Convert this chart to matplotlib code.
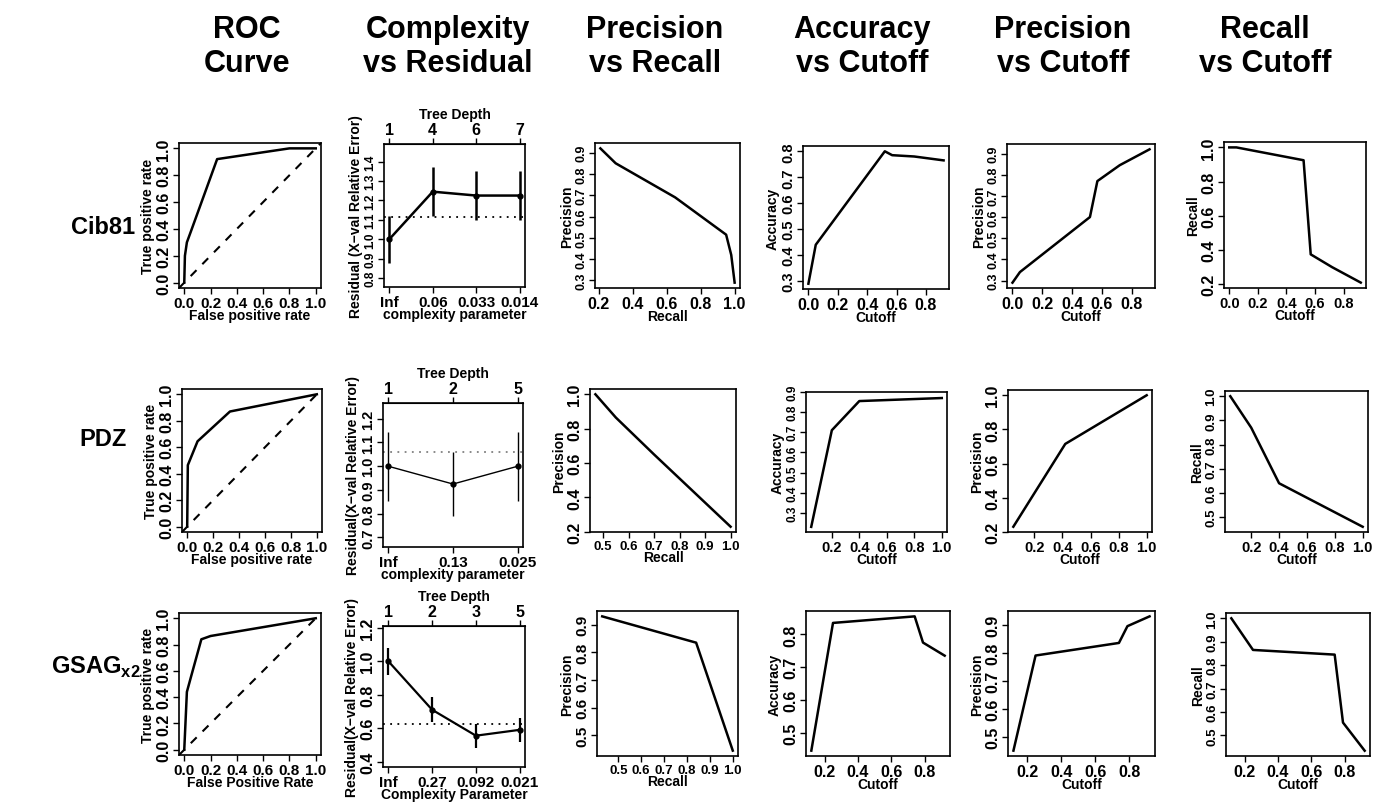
import matplotlib
matplotlib.use("Agg")
import matplotlib.pyplot as plt
import numpy as np
from matplotlib.ticker import FormatStrFormatter

plt.rcParams['font.family'] = ['Liberation Sans', 'DejaVu Sans']
plt.rcParams['font.weight'] = 'bold'
plt.rcParams['mathtext.fontset'] = 'custom'
plt.rcParams['mathtext.bf'] = 'Liberation Sans:bold'
plt.rcParams['mathtext.rm'] = 'Liberation Sans:bold'

W, H = 1375, 803

col_titles = ['ROC\nCurve', 'Complexity\nvs Residual', 'Precision\nvs Recall',
              'Accuracy\nvs Cutoff', 'Precision\nvs Cutoff', 'Recall\nvs Cutoff']
row_titles = ['Cib81', 'PDZ', r'GSAG$_{\mathbf{x2}}$']

# ---- Cib81 ----
cib_roc_fpr = [0.0, 0.005, 0.02, 0.05, 0.25, 0.8, 1.0]
cib_roc_tpr = [0.0, 0.2, 0.3, 0.38, 0.92, 1.0, 1.0]
cib_cp = ['Inf', '0.06', '0.033', '0.014']
cib_depth = ['1', '4', '6', '7']
cib_err = [1.0, 1.245, 1.225, 1.225]
cib_err_lo = [0.88, 1.12, 1.10, 1.10]
cib_err_hi = [1.12, 1.37, 1.35, 1.35]
cib_err_line = 1.115
cib_recall = [0.21, 0.30, 0.65, 0.95, 0.98, 1.0]
cib_precision = [0.92, 0.85, 0.69, 0.515, 0.42, 0.29]
cib_cutoff = [0.0, 0.05, 0.52, 0.57, 0.72, 0.92]
cib_acc = [0.29, 0.44, 0.80, 0.785, 0.78, 0.765]
cib_prec_cut = [0.29, 0.34, 0.60, 0.77, 0.845, 0.92]
cib_rec_cut = [1.0, 1.0, 0.925, 0.375, 0.30, 0.21]

# ---- PDZ ----
pdz_roc_fpr = [0.0, 0.005, 0.08, 0.33, 1.0]
pdz_roc_tpr = [0.0, 0.465, 0.645, 0.87, 1.0]
pdz_cp = ['Inf', '0.13', '0.025']
pdz_depth = ['1', '2', '5']
pdz_err = [1.0, 0.925, 1.0]
pdz_err_lo = [0.855, 0.79, 0.855]
pdz_err_hi = [1.145, 1.06, 1.145]
pdz_err_line = 1.06
pdz_recall = [0.47, 0.55, 0.70, 1.0]
pdz_precision = [1.0, 0.865, 0.65, 0.23]
pdz_cutoff = [0.05, 0.20, 0.40, 1.0]
pdz_acc = [0.23, 0.71, 0.855, 0.87]
pdz_prec_cutoff = [0.05, 0.42, 1.0]
pdz_prec_cut = [0.23, 0.715, 1.0]
pdz_rec_cut = [1.0, 0.87, 0.64, 0.46]

# ---- GSAG x2 ----
gsag_roc_fpr = [0.0, 0.02, 0.05, 0.13, 0.20, 1.0]
gsag_roc_tpr = [0.0, 0.44, 0.55, 0.84, 0.865, 1.0]
gsag_cp = ['Inf', '0.27', '0.092', '0.021']
gsag_depth = ['1', '2', '3', '5']
gsag_err = [1.0, 0.71, 0.555, 0.59]
gsag_err_lo = [0.92, 0.635, 0.48, 0.52]
gsag_err_hi = [1.08, 0.785, 0.625, 0.66]
gsag_err_line = 0.625
gsag_recall = [0.43, 0.84, 1.0]
gsag_precision = [0.93, 0.835, 0.445]
gsag_cutoff = [0.12, 0.25, 0.74, 0.79, 0.92]
gsag_acc = [0.445, 0.835, 0.855, 0.775, 0.735]
gsag_prec_cut = [0.45, 0.79, 0.835, 0.895, 0.93]
gsag_rec_cut = [1.0, 0.865, 0.845, 0.555, 0.435]

fig = plt.figure(figsize=(W / 100, H / 100), dpi=100)


def box(l, r, t, b):
    return fig.add_axes([l / W, 1 - b / H, (r - l) / W, (b - t) / H])


def style(ax, xticks, yticks, xlabel, ylabel, xfmt='%.1f', yfmt='%.1f', xs=11.5, ys=11.5):
    ax.set_xticks(xticks)
    ax.set_yticks(yticks)
    if xfmt:
        ax.xaxis.set_major_formatter(FormatStrFormatter(xfmt))
    if yfmt:
        ax.yaxis.set_major_formatter(FormatStrFormatter(yfmt))
    ax.tick_params(direction='out', length=4, width=1, pad=1.5)
    ax.tick_params(axis='x', labelsize=xs)
    ax.tick_params(axis='y', labelsize=ys)
    for lab in ax.get_yticklabels():
        lab.set_rotation(90)
        lab.set_va('center')
    ax.set_xlabel(xlabel, fontsize=10, fontweight='bold', labelpad=-1)
    ax.set_ylabel(ylabel, fontsize=10, fontweight='bold', labelpad=1)
    for s in ax.spines.values():
        s.set_linewidth(1.2)


def roc(ax, fpr, tpr, xlabel):
    ax.plot(fpr, tpr, color='black', lw=1.8)
    ax.margins(0.04)
    ax.axline((0, 0), (1, 1), color='black', lw=1.5, ls=(0, (4, 4)))
    style(ax, np.arange(0, 1.01, 0.2), np.arange(0, 1.01, 0.2), xlabel, 'True positive rate',
          xs=11)


def cpplot(ax, cp, depth, err, lo, hi, line, yticks, ylim, xlabel, ylabel, lw, lcol, ys):
    x = np.arange(1, len(cp) + 1)
    ax.vlines(x, lo, hi, color='black', lw=lw)
    ax.plot(x, err, color='black', lw=lw, marker='o', ms=3.5)
    ax.axhline(line, color=lcol, lw=1.3, ls=(0, (1, 3)))
    ax.set_xlim(1 - 0.04 * (len(cp) - 1), len(cp) + 0.04 * (len(cp) - 1))
    ax.set_ylim(*ylim)
    style(ax, x, yticks, xlabel, ylabel, xfmt=None, xs=11, ys=ys)
    ax.set_xticklabels(cp)
    top = ax.secondary_xaxis('top')
    top.set_xticks(x)
    top.set_xticklabels(depth)
    top.tick_params(direction='out', length=4, width=1, labelsize=11.5, pad=1)
    top.set_xlabel('Tree Depth', fontsize=10, fontweight='bold', labelpad=3)


def curve(ax, x, y, xticks, yticks, xlabel, ylabel, xs=11.5, ys=11.5):
    ax.plot(x, y, color='black', lw=1.8)
    ax.margins(0.04)
    style(ax, xticks, yticks, xlabel, ylabel, xs=xs, ys=ys)


# column titles
for cx, t in zip([247, 448, 655, 862, 1063, 1265], col_titles):
    fig.text(cx / W, 1 - 47 / H, t, ha='center', va='center', fontsize=22,
             fontweight='bold', linespacing=1.2)

# row titles
for cx, cy, t in zip([103, 103, 96], [227, 440, 667], row_titles):
    fig.text(cx / W, 1 - cy / H, t, ha='center', va='center', fontsize=17, fontweight='bold')

# Row 1: Cib81
ax = box(179, 321, 144, 289)
roc(ax, cib_roc_fpr, cib_roc_tpr, 'False positive rate')
ax = box(384, 525, 145, 288)
cpplot(ax, cib_cp, cib_depth, cib_err, cib_err_lo, cib_err_hi, cib_err_line,
       np.arange(0.8, 1.41, 0.1), (0.755, 1.49), 'complexity parameter',
       'Residual (X\u2212val Relative Error)', 1.8, 'black', 8.5)
ax = box(595, 740, 144, 289)
curve(ax, cib_recall, cib_precision, np.arange(0.2, 1.01, 0.2), np.arange(0.3, 0.91, 0.1),
      'Recall', 'Precision', ys=9)
ax = box(803, 949, 147, 290)
curve(ax, cib_cutoff, cib_acc, np.arange(0, 0.81, 0.2), np.arange(0.3, 0.81, 0.1),
      'Cutoff', 'Accuracy', ys=10.5)
ax = box(1007, 1155, 145, 289)
curve(ax, cib_cutoff, cib_prec_cut, np.arange(0, 0.81, 0.2), np.arange(0.3, 0.91, 0.1),
      'Cutoff', 'Precision', ys=9)
ax = box(1224, 1366, 143, 289)
curve(ax, cib_cutoff, cib_rec_cut, np.arange(0, 0.81, 0.2), np.arange(0.2, 1.01, 0.2),
      'Cutoff', 'Recall', xs=10.5)

# Row 2: PDZ
ax = box(182, 322, 390, 533)
roc(ax, pdz_roc_fpr, pdz_roc_tpr, 'False positive rate')
ax = box(383, 523, 404, 548)
cpplot(ax, pdz_cp, pdz_depth, pdz_err, pdz_err_lo, pdz_err_hi, pdz_err_line,
       np.arange(0.7, 1.21, 0.1), (0.66, 1.266), 'complexity parameter',
       'Residual(X\u2212val Relative Error)', 1.0, 'gray', 10.5)
ax = box(590, 736, 390, 533)
curve(ax, pdz_recall, pdz_precision, np.arange(0.5, 1.01, 0.1), np.arange(0.2, 1.01, 0.2),
      'Recall', 'Precision', xs=9.5)
ax = box(806, 947, 393, 533)
curve(ax, pdz_cutoff, pdz_acc, np.arange(0.2, 1.01, 0.2), np.arange(0.3, 0.91, 0.1),
      'Cutoff', 'Accuracy', xs=10.5, ys=8.5)
ax = box(1008, 1152, 391, 533)
curve(ax, pdz_prec_cutoff, pdz_prec_cut, np.arange(0.2, 1.01, 0.2), np.arange(0.2, 1.01, 0.2),
      'Cutoff', 'Precision', xs=10.5)
ax = box(1225, 1368, 392, 533)
curve(ax, pdz_cutoff, pdz_rec_cut, np.arange(0.2, 1.01, 0.2), np.arange(0.5, 1.01, 0.1),
      'Cutoff', 'Recall', xs=10.5, ys=9.5)

# Row 3: GSAG x2
ax = box(179, 321, 614, 756)
roc(ax, gsag_roc_fpr, gsag_roc_tpr, 'False Positive Rate')
ax = box(383, 525, 627, 768)
cpplot(ax, gsag_cp, gsag_depth, gsag_err, gsag_err_lo, gsag_err_hi, gsag_err_line,
       np.arange(0.4, 1.21, 0.2), (0.368, 1.21), 'Complexity Parameter',
       'Residual(X\u2212val Relative Error)', 1.6, 'black', 11.5)
ax = box(597, 738, 612, 757)
curve(ax, gsag_recall, gsag_precision, np.arange(0.5, 1.01, 0.1), np.arange(0.5, 0.91, 0.1),
      'Recall', 'Precision', xs=9.5, ys=11)
ax = box(806, 950, 612, 757)
curve(ax, gsag_cutoff, gsag_acc, np.arange(0.2, 0.81, 0.2), np.arange(0.5, 0.81, 0.1),
      'Cutoff', 'Accuracy')
ax = box(1008, 1155, 612, 757)
curve(ax, gsag_cutoff, gsag_prec_cut, np.arange(0.2, 0.81, 0.2), np.arange(0.5, 0.91, 0.1),
      'Cutoff', 'Precision')
ax = box(1226, 1370, 614, 757)
curve(ax, gsag_cutoff, gsag_rec_cut, np.arange(0.2, 0.81, 0.2), np.arange(0.5, 1.01, 0.1),
      'Cutoff', 'Recall', ys=9.5)

fig.savefig('out.png', dpi=100)
